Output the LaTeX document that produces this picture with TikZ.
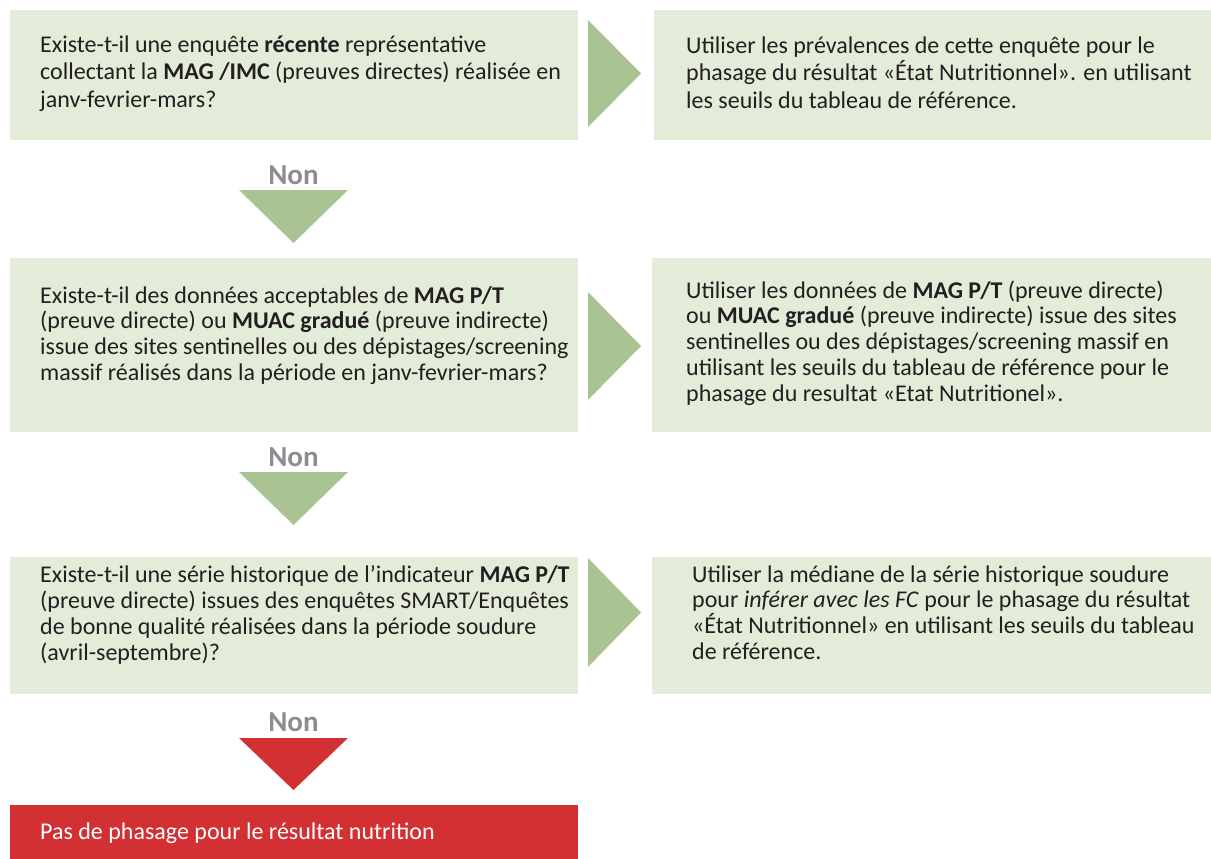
\documentclass[tikz,border=0pt]{standalone}
\usepackage{fontspec}
\setmainfont{Carlito}
\definecolor{boxgreen}{HTML}{E3EBD9}
\definecolor{arrowgreen}{HTML}{A9C492}
\definecolor{redbox}{HTML}{D33034}
\definecolor{nongray}{HTML}{8C8C92}
\definecolor{txt}{HTML}{231F20}
\begin{document}
\begin{tikzpicture}[x=1pt,y=-1pt,
  box/.style={fill=boxgreen, draw=none, inner sep=0, anchor=north west},
  redstyle/.style={fill=redbox, draw=none, inner sep=0, anchor=north west},
  body/.style={text=txt, align=left, inner sep=0, anchor=west, font=\fontsize{24}{25.8}\selectfont},
  nonlbl/.style={text=nongray, inner sep=0, font=\fontsize{29}{30}\selectfont\bfseries},
  garrow/.style={fill=arrowgreen},
  rarrow/.style={fill=redbox}]
\useasboundingbox (0,0) rectangle (1211,859);
\fill[white] (0,0) rectangle (1211,859);
% boxes
\node[box, minimum width=568pt, minimum height=130pt] (q1) at (10,10) {};
\node[box, minimum width=557pt, minimum height=130pt] (a1) at (654,10) {};
\node[box, minimum width=568pt, minimum height=174pt] (q2) at (10,258) {};
\node[box, minimum width=559pt, minimum height=174pt] (a2) at (652,258) {};
\node[box, minimum width=568pt, minimum height=137pt] (q3) at (10,557) {};
\node[box, minimum width=559pt, minimum height=137pt] (a3) at (652,557) {};
\node[redstyle, minimum width=568pt, minimum height=54pt] (nr) at (10,805) {};
% texts
\node[body, font=\fontsize{24}{27.5}\selectfont] (q1t) at (40,73.5) {Existe-t-il une enquête \textbf{récente} représentative\\collectant la \textbf{MAG /IMC} (preuves directes) réalisée en\\janv-fevrier-mars?};
\node[body, font=\fontsize{24}{27.5}\selectfont] (a1t) at (686,72.5) {Utiliser les prévalences de cette enquête pour le\\phasage du résultat «État Nutritionnel». en utilisant\\les seuils du tableau de référence.};
\node[body] (q2t) at (40,335.5) {Existe-t-il des données acceptables de \textbf{MAG P/T}\\(preuve directe) ou \textbf{MUAC gradué} (preuve indirecte)\\issue des sites sentinelles ou des dépistages/screening\\massif réalisés dans la période en janv-fevrier-mars?};
\node[body] (a2t) at (686,343) {Utiliser les données de \textbf{MAG P/T} (preuve directe)\\ou \textbf{MUAC gradué} (preuve indirecte) issue des sites\\sentinelles ou des dépistages/screening massif en\\utilisant les seuils du tableau de référence pour le\\phasage du resultat «Etat Nutritionel».};
\node[body] (q3t) at (40,615) {Existe-t-il une série historique de l’indicateur \textbf{MAG P/T}\\(preuve directe) issues des enquêtes SMART/Enquêtes\\de bonne qualité réalisées dans la période soudure\\(avril-septembre)?};
\node[body] (a3t) at (692,612.5) {Utiliser la médiane de la série historique soudure\\pour \textit{inférer avec les FC} pour le phasage du résultat\\«État Nutritionnel» en utilisant les seuils du tableau\\de référence.};
\node[body, text=white] (nrt) at (40,833) {Pas de phasage pour le résultat nutrition};
% right arrows
\fill[garrow] (588,20) -- (641,73.5) -- (588,127) -- cycle;
\fill[garrow] (588,292) -- (641,346) -- (588,400) -- cycle;
\fill[garrow] (588,558) -- (641,612.5) -- (588,667) -- cycle;
% Non labels and down arrows
\node[nonlbl] (n1) at (293.5,175) {Non};
\node[nonlbl] (n2) at (293.5,457) {Non};
\node[nonlbl] (n3) at (293.5,722) {Non};
\fill[garrow] (239,190) -- (348,190) -- (293.5,243) -- cycle;
\fill[garrow] (239,472) -- (348,472) -- (293.5,525) -- cycle;
\fill[rarrow] (239,738) -- (348,738) -- (293.5,790) -- cycle;
\end{tikzpicture}
\end{document}
